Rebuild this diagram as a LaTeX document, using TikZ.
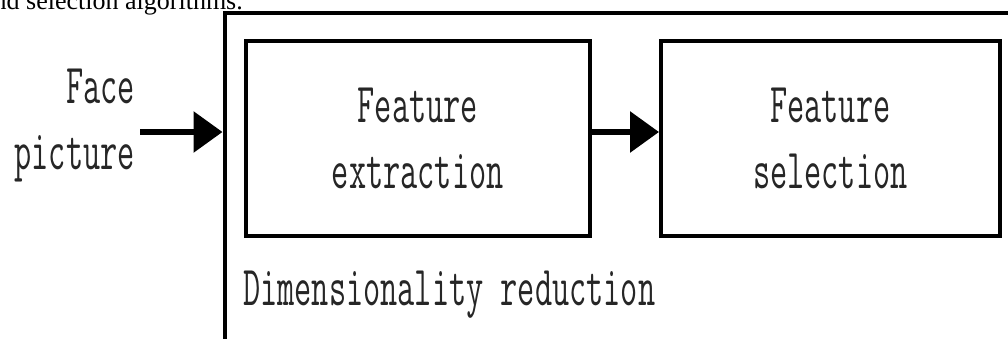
\documentclass[tikz,border=0pt]{standalone}
\usepackage{fontspec}
\usepackage{graphicx}
\newfontfamily\topserif{Liberation Serif}
\usetikzlibrary{arrows.meta}
\newcommand\cnd[1]{\scalebox{0.59}[1]{#1}}
\begin{document}
\begin{tikzpicture}[x=1pt,y=-1pt,
  mono/.style={font=\fontsize{56.5}{66}\selectfont\ttfamily\addfontfeature{FakeBold=1.2}, text=black!85, inner sep=0pt},
  box/.style={mono, draw=black, line width=4pt, minimum height=195pt, align=center},
  arr/.style={line width=6pt, -{Triangle[length=29pt,width=40pt]}},
  frame/.style={line width=4pt, draw=black}]
\useasboundingbox (0,0) rectangle (1008,338);
\clip (0,0) rectangle (1008,338);
% cropped text line from the page above
\node[anchor=base east, inner sep=0pt, font=\fontsize{26}{30}\selectfont\topserif, text=black] (top) at (243,9) {and selection algorithms.};
% outer frame (extends beyond the crop)
\draw[frame] (224.5,12.5) rectangle (1040,400);
\coordinate (tgt) at (222.5,132);
% blocks
\node[box, minimum width=344.5pt] (fe) at (417.75,138) {\cnd{Feature}\\\cnd{extraction}};
\node[box, minimum width=338.5pt] (fs) at (830.25,138) {\cnd{Feature}\\\cnd{selection}};
% input text
\node[mono, align=right, anchor=north east] (face) at (135,69) {\cnd{Face}\\\cnd{picture}};
\node[mono, anchor=base west] (dim) at (243,305) {\cnd{Dimensionality reduction}};
% connectors
\path (face.east) ++(5,0) coordinate (src);
\draw[arr] (src |- tgt) -- (tgt);
\draw[arr] ([yshift=6pt]fe.east) -- ([yshift=6pt]fs.west);
\end{tikzpicture}
\end{document}
